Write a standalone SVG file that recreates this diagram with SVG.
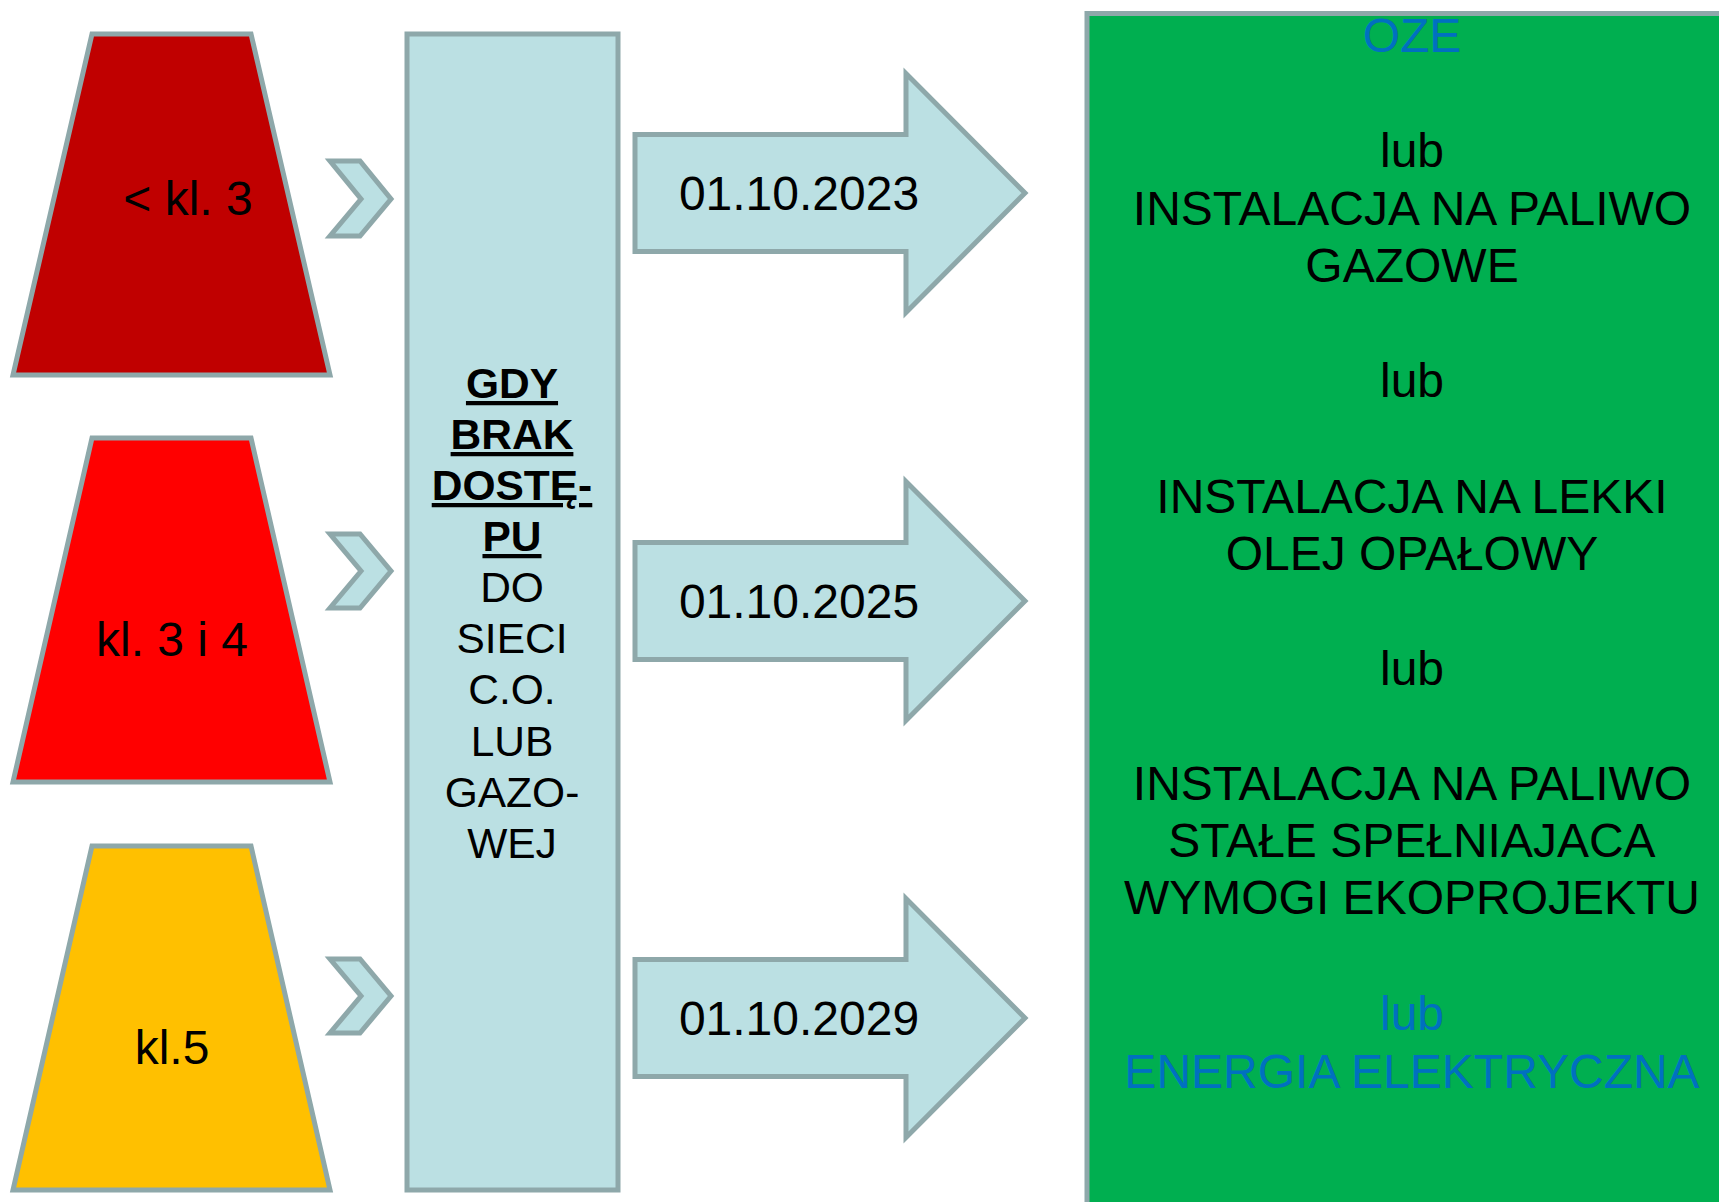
<svg xmlns="http://www.w3.org/2000/svg" width="1719" height="1202" viewBox="0 0 1719 1202">
<style>
.sh{stroke:#8EA8AA;stroke-width:5;stroke-linejoin:miter}
.lb{fill:#BBE0E3}
.t{font-family:"Liberation Sans",Arial,sans-serif;fill:#000}
.mid{text-anchor:middle}
.b{font-weight:bold;text-decoration:underline}
.blue{fill:#0070C0}
</style>
<rect width="1719" height="1202" fill="#FFFFFF"/>
<g id="green-box">
<rect class="sh" x="1087" y="13.5" width="700" height="1300" fill="#00AF50"/>
<g class="t mid" font-size="48">
<text class="blue" x="1412" y="52">OZE</text>
<text x="1412" y="167">lub</text>
<text x="1412" y="225">INSTALACJA NA PALIWO</text>
<text x="1412" y="282">GAZOWE</text>
<text x="1412" y="397">lub</text>
<text x="1412" y="513">INSTALACJA NA LEKKI</text>
<text x="1412" y="570">OLEJ OPAŁOWY</text>
<text x="1412" y="685">lub</text>
<text x="1412" y="800">INSTALACJA NA PALIWO</text>
<text x="1412" y="857">STAŁE SPEŁNIAJACA</text>
<text x="1412" y="914">WYMOGI EKOPROJEKTU</text>
<text class="blue" x="1412" y="1030">lub</text>
<text class="blue" x="1412" y="1088">ENERGIA ELEKTRYCZNA</text>
</g>
</g>
<g id="class-lt3">
<polygon class="sh" fill="#C00000" points="92,34 251,34 330,375 13,375"/>
<text class="t mid" x="188" y="215" font-size="48">&lt; kl. 3</text>
</g>
<g id="class-3-4">
<polygon class="sh" fill="#FF0000" points="92,438 251,438 330,782 13,782"/>
<text class="t mid" x="172" y="656" font-size="48">kl. 3 i 4</text>
</g>
<g id="class-5">
<polygon class="sh" fill="#FFC000" points="92,846 251,846 330,1190 13,1190"/>
<text class="t mid" x="172" y="1064" font-size="48">kl.5</text>
</g>
<g id="condition">
<rect class="sh lb" x="407" y="34" width="211" height="1156"/>
<g class="t mid" font-size="42.5">
<text class="b" x="512" y="398">GDY</text>
<text class="b" x="512" y="449">BRAK</text>
<text class="b" x="512" y="500">DOSTĘ-</text>
<text class="b" x="512" y="551">PU</text>
<text x="512" y="602">DO</text>
<text x="512" y="653">SIECI</text>
<text x="512" y="704">C.O.</text>
<text x="512" y="756">LUB</text>
<text x="512" y="807">GAZO-</text>
<text x="512" y="858">WEJ</text>
</g>
</g>
<g id="connectors">
<polygon class="sh lb" points="330,161 360,161 391,199 360,236 330,236 361,199"/>
<polygon class="sh lb" points="330,534 360,534 391,571 360,608 330,608 361,571"/>
<polygon class="sh lb" points="330,959 360,959 391,996 360,1033 330,1033 361,996"/>
</g>
<g id="arrow-2023">
<polygon class="sh lb" points="635,134.5 906,134.5 906,73.5 1025,193 906,312.5 906,251.5 635,251.5"/>
<text class="t mid" x="799" y="210" font-size="48">01.10.2023</text>
</g>
<g id="arrow-2025">
<polygon class="sh lb" points="635,542.5 906,542.5 906,481.5 1025,601 906,720.5 906,659.5 635,659.5"/>
<text class="t mid" x="799" y="618" font-size="48">01.10.2025</text>
</g>
<g id="arrow-2029">
<polygon class="sh lb" points="635,959.5 906,959.5 906,898.5 1025,1018 906,1137.5 906,1076.5 635,1076.5"/>
<text class="t mid" x="799" y="1035" font-size="48">01.10.2029</text>
</g>
</svg>
